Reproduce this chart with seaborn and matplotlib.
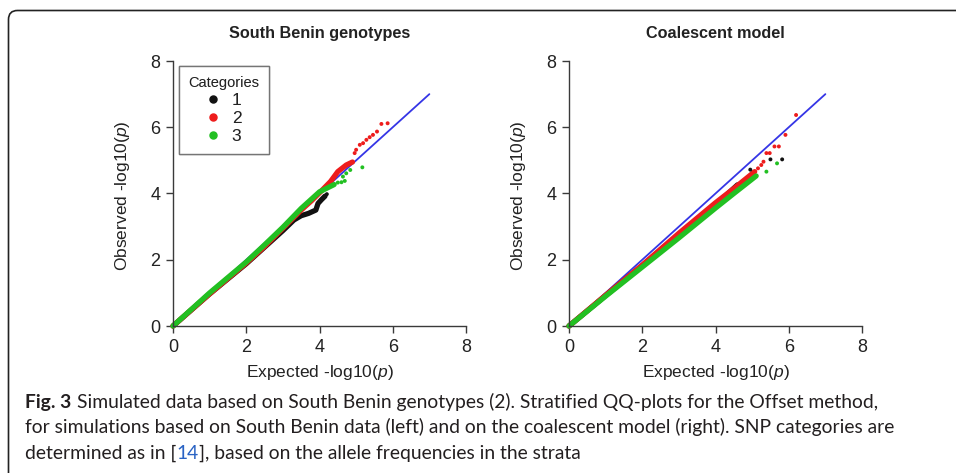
import numpy as np
import pandas as pd
import matplotlib
matplotlib.use("Agg")
import matplotlib.pyplot as plt
import seaborn as sns
from matplotlib.lines import Line2D
from matplotlib.patches import FancyBboxPatch
from matplotlib.transforms import IdentityTransform

# ---------------- data ----------------
categories = ["1", "2", "3"]
panel_titles = ["South Benin genotypes", "Coalescent model"]
x_label = "Expected -log10($p$)"
y_label = "Observed -log10($p$)"
legend_title = "Categories"
axis_ticks = [0, 2, 4, 6, 8]
ref_line_x = [0, 7]
ref_line_y = [0, 7]

# South Benin panel (expected, observed) - dense part of each category
sb_c1_dense_x = [0.0, 1.0, 2.0, 2.5, 3.0, 3.3, 3.5, 3.7, 3.9, 3.96, 4.05, 4.15]
sb_c1_dense_y = [0.0, 0.97, 1.88, 2.38, 2.88, 3.2, 3.33, 3.4, 3.5, 3.7, 3.81, 3.92]
sb_c2_dense_x = [0.0, 1.0, 2.0, 2.5, 3.0, 3.5, 3.8, 4.0, 4.3, 4.5, 4.73, 4.9]
sb_c2_dense_y = [0.0, 0.97, 1.9, 2.4, 2.95, 3.5, 3.8, 4.02, 4.36, 4.66, 4.86, 4.95]
sb_c3_dense_x = [0.0, 1.0, 2.0, 2.5, 3.0, 3.5, 4.0, 4.2, 4.4]
sb_c3_dense_y = [0.0, 1.0, 1.93, 2.45, 2.98, 3.55, 4.05, 4.16, 4.27]
# South Benin panel - sparse tail points
sb_c1_tail_x = [4.2]
sb_c1_tail_y = [3.98]
sb_c2_tail_x = [4.96, 5.0, 5.1, 5.19, 5.28, 5.37, 5.46, 5.57, 5.69, 5.86]
sb_c2_tail_y = [5.22, 5.32, 5.47, 5.52, 5.62, 5.70, 5.77, 5.87, 6.10, 6.12]
sb_c3_tail_x = [4.5, 4.6, 4.64, 4.69, 4.73, 4.84, 5.17]
sb_c3_tail_y = [4.33, 4.34, 4.51, 4.38, 4.61, 4.71, 4.79]

# Coalescent panel - dense part
co_c1_dense_x = [0.0, 1.0, 2.0, 3.0, 4.0, 4.6]
co_c1_dense_y = [0.0, 0.92, 1.82, 2.75, 3.65, 4.26]
co_c2_dense_x = [0.0, 1.0, 2.0, 3.0, 4.0, 4.5, 5.07]
co_c2_dense_y = [0.0, 0.93, 1.84, 2.8, 3.72, 4.15, 4.66]
co_c3_dense_x = [0.0, 1.0, 2.0, 3.0, 4.0, 4.5, 5.11]
co_c3_dense_y = [0.0, 0.9, 1.78, 2.66, 3.56, 4.0, 4.53]
# Coalescent panel - sparse tail points
co_c1_tail_x = [4.95, 5.5, 5.82]
co_c1_tail_y = [4.72, 5.03, 5.03]
co_c2_tail_x = [5.16, 5.25, 5.31, 5.39, 5.48, 5.61, 5.73, 5.91, 6.2]
co_c2_tail_y = [4.76, 4.86, 4.96, 5.22, 5.22, 5.42, 5.42, 5.77, 6.37]
co_c3_tail_x = [5.39, 5.68]
co_c3_tail_y = [4.66, 4.91]

caption_bold = "Fig. 3"
caption_line1 = "Simulated data based on South Benin genotypes (2). Stratified QQ-plots for the Offset method,"
caption_line2 = "for simulations based on South Benin data (left) and on the coalescent model (right). SNP categories are"
caption_line3_a = "determined as in ["
caption_line3_ref = "14"
caption_line3_b = "], based on the allele frequencies in the strata"

# ---------------- build tables ----------------
def table(panel, part, xs_list, ys_list):
    rows = []
    for cat, xs, ys in zip(categories, xs_list, ys_list):
        for x, y in zip(xs, ys):
            rows.append((panel, part, cat, x, y))
    return rows

rows = []
rows += table(0, "dense", [sb_c1_dense_x, sb_c2_dense_x, sb_c3_dense_x],
              [sb_c1_dense_y, sb_c2_dense_y, sb_c3_dense_y])
rows += table(0, "tail", [sb_c1_tail_x, sb_c2_tail_x, sb_c3_tail_x],
              [sb_c1_tail_y, sb_c2_tail_y, sb_c3_tail_y])
rows += table(1, "dense", [co_c1_dense_x, co_c2_dense_x, co_c3_dense_x],
              [co_c1_dense_y, co_c2_dense_y, co_c3_dense_y])
rows += table(1, "tail", [co_c1_tail_x, co_c2_tail_x, co_c3_tail_x],
              [co_c1_tail_y, co_c2_tail_y, co_c3_tail_y])
df = pd.DataFrame(rows, columns=["panel", "part", "category", "expected", "observed"])

# ---------------- style ----------------
sns.set_theme(style="white")
plt.rcParams["font.family"] = ["Liberation Sans", "DejaVu Sans"]
plt.rcParams["mathtext.fontset"] = "custom"
plt.rcParams["mathtext.rm"] = "Liberation Sans"
plt.rcParams["mathtext.it"] = "Liberation Sans:italic"

palette = {"1": "#111111", "2": "#EE1C1C", "3": "#22C022"}
ref_color = "#3535E6"
axis_color = "#3a3a3a"
text_color = "#222222"

W, H = 956, 473
fig = plt.figure(figsize=(W / 100, H / 100), dpi=100)
fig.patch.set_facecolor("white")

axes_px = [(173, 466), (569, 862)]
y_top, y_bot = 61, 326

for i, (xl, xr) in enumerate(axes_px):
    ax = fig.add_axes([xl / W, 1 - y_bot / H, (xr - xl) / W, (y_bot - y_top) / H])
    ax.set_facecolor("white")
    sub = df[df.panel == i]
    sns.lineplot(x=ref_line_x, y=ref_line_y, color=ref_color, lw=1.3, ax=ax, zorder=1)
    sns.lineplot(data=sub[sub.part == "dense"], x="expected", y="observed", hue="category",
                 hue_order=categories, palette=palette, estimator=None, sort=False,
                 lw=3.8, legend=False, ax=ax, zorder=2, solid_capstyle="round")
    sns.scatterplot(data=sub[sub.part == "tail"], x="expected", y="observed", hue="category",
                    hue_order=categories, palette=palette, s=8, linewidth=0,
                    legend=False, ax=ax, zorder=3)
    for ln in ax.lines:
        ln.set_clip_on(False)
    for c in ax.collections:
        c.set_clip_on(False)

    ax.set_xlim(0, 8)
    ax.set_ylim(0, 8)
    ax.set_xticks(axis_ticks)
    ax.set_yticks(axis_ticks)
    sns.despine(ax=ax)
    for s in ["left", "bottom"]:
        ax.spines[s].set_color(axis_color)
        ax.spines[s].set_linewidth(1.0)
    ax.tick_params(axis="both", direction="out", length=5, width=1.0, color=axis_color,
                   labelsize=13, labelcolor=text_color, left=True, bottom=True)
    ax.tick_params(axis="x", pad=4)
    ax.tick_params(axis="y", pad=4)
    ax.set_xlabel(x_label, fontsize=12.5, color=text_color, va="center")
    ax.set_ylabel(y_label, fontsize=12.5, color=text_color, va="center")
    ax.xaxis.set_label_coords(0.5, (y_bot - 372) / (y_bot - y_top))
    ax.yaxis.set_label_coords(-51 / (xr - xl), 0.49)

    handles = [Line2D([], [], marker="o", ls="", color=palette[c], markersize=5)
               for c in categories]
    leg = ax.legend(handles, categories, title=legend_title, loc="upper left",
                    bbox_to_anchor=((178.5 - xl) / (xr - xl), 1 - 5 / (y_bot - y_top)),
                    fontsize=12.5, title_fontsize=10.5, frameon=True, fancybox=False,
                    edgecolor="#666666", handlelength=0.8, handletextpad=0.7,
                    labelspacing=0.18, borderpad=0.55, borderaxespad=0)
    leg.get_frame().set_linewidth(1.0)
    for t in leg.get_texts():
        t.set_color(text_color)
    leg.get_title().set_color(text_color)

    fig.text((xl + xr) / 2 / W, 1 - 33.5 / H, panel_titles[i], ha="center", va="center",
             fontsize=11.7, fontweight="bold", color=text_color)

# frame (rounded top-left)
frame = FancyBboxPatch((8.5, -40), 1100, 462.5 + 40, boxstyle="round,pad=0,rounding_size=9",
                       transform=IdentityTransform(), facecolor="none",
                       edgecolor="#222222", linewidth=1.2)
fig.add_artist(frame)

# caption
cap_font = ["Lato", "DejaVu Sans"]
cap_color = "#231F20"
renderer = fig.canvas.get_renderer()
base = 12.0
x0 = 25
target_w = 854
gap_px = 6

def place(text, x_px, y_base, size, **kw):
    t = fig.text(x_px / W, 1 - y_base / H, text, ha="left", va="baseline",
                 fontsize=size, family=cap_font, color=kw.pop("color", cap_color), **kw)
    return t

tb = place(caption_bold, x0, 407.7, base, fontweight="bold")
tr = place(caption_line1, 0, 407.7, base)
wb = tb.get_window_extent(renderer).width
wr = tr.get_window_extent(renderer).width
scale = target_w / (wb + gap_px + wr)
size = base * scale
tb.set_fontsize(size)
tr.set_fontsize(size)
wb = tb.get_window_extent(renderer).width
tr.set_x((x0 + wb + gap_px) / W)

place(caption_line2, x0, 433.3, size)
t3a = place(caption_line3_a, x0, 459.0, size)
w3a = t3a.get_window_extent(renderer).width
t3r = place(caption_line3_ref, x0 + w3a, 459.0, size, color="#2A63C4")
w3r = t3r.get_window_extent(renderer).width
place(caption_line3_b, x0 + w3a + w3r, 459.0, size)

fig.savefig("out.png", dpi=100, facecolor="white")
